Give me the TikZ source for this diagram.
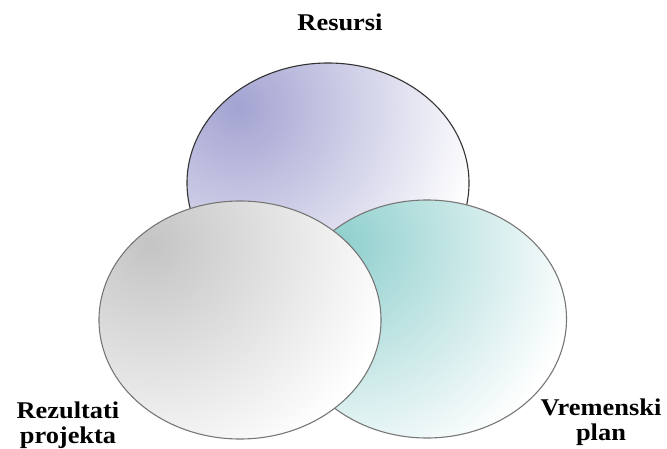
\documentclass[tikz,border=0pt]{standalone}
\usepackage{fontspec}
\setmainfont{Liberation Serif}
\newfontfamily\lblfont[FakeStretch=1.1]{Liberation Serif}
\usepackage{tikz}
\usetikzlibrary{shapes.geometric,positioning}
\definecolor{lavfill}{HTML}{A3A3D2}
\definecolor{tealfill}{HTML}{8ECFCD}
\definecolor{grayfill}{HTML}{C4C4C4}
\definecolor{rimdark}{HTML}{333333}
\definecolor{rimgray}{HTML}{777777}

\begin{document}
\begin{tikzpicture}[x=1pt, y=-1pt,
  blob/.style={ellipse, fill=white, inner sep=0pt, outer sep=0pt, minimum width=282pt, minimum height=238pt, line width=1.1pt},
  tint/.style={path picture={\shade[shift={(path picture bounding box.center)}, inner color=#1, outer color=white] (-90,-76) circle (245);}},
  lbl/.style={font=\lblfont\bfseries\fontsize{24}{24.5}\selectfont, align=center, inner sep=0pt}]
  % canvas
  \useasboundingbox (0,0) rectangle (667,449);

  % Resursi (back)
  \node[blob, draw=rimdark, tint=lavfill, minimum height=240pt] (resursi) at (328,183) {};
  % Vremenski plan (middle)
  \node[blob, draw=rimgray, tint=tealfill, minimum width=279pt] (vremenski) at (427,319) {};
  % Rezultati projekta (front)
  \node[blob, draw=rimgray, tint=grayfill] (rezultati) at (240,320) {};

  % labels
  \node[lbl, anchor=base] (lres) at (340,31) {Resursi};
  \node[lbl, anchor=north] (lrez) at (68,402) {Rezultati\\projekta};
  \node[lbl, anchor=north] (lvrem) at (601,399) {Vremenski\\plan};
\end{tikzpicture}
\end{document}
